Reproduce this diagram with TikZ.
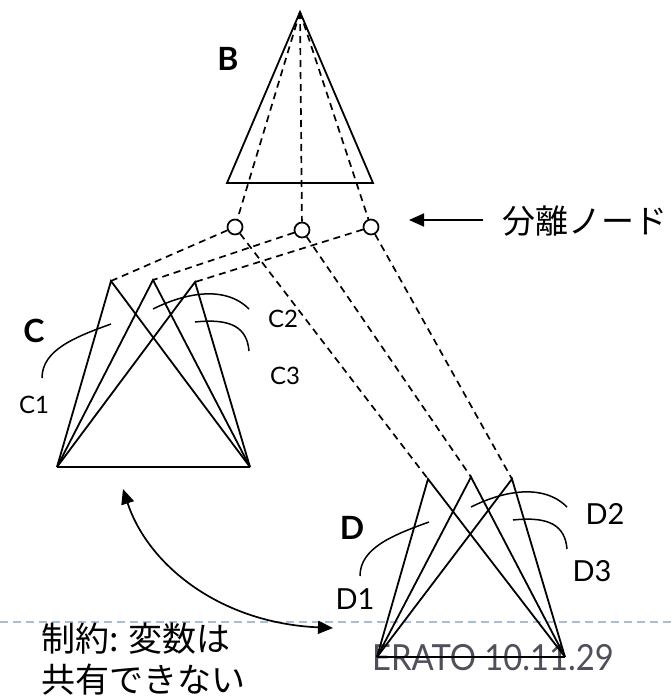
\documentclass[tikz,border=0pt]{standalone}
\usepackage{fontspec}
\setmainfont{Lato}
\newfontfamily\jpfont{Noto Sans CJK JP}
\usetikzlibrary{arrows.meta}
\definecolor{footblue}{HTML}{A9BED4}
\definecolor{footgray}{HTML}{50505C}
\begin{document}
\begin{tikzpicture}[x=1pt,y=-1pt,
  tri/.style={line width=1.8pt, line join=miter},
  dsh/.style={line width=1.7pt, dash pattern=on 7pt off 5pt},
  sepnode/.style={circle, draw, line width=1.7pt, minimum size=15pt, inner sep=0pt},
  lead/.style={line width=1.5pt},
  clbl/.style={font=\fontsize{24}{28}\selectfont, inner sep=0pt},
  dlbl/.style={font=\fontsize{29}{34}\selectfont, inner sep=0pt},
  big/.style={font=\bfseries\fontsize{32}{36}\selectfont, inner sep=0pt},
  jp/.style={font=\jpfont\fontsize{33}{38}\selectfont, inner sep=0pt, anchor=west},
  arr/.style={line width=1.7pt, -{Triangle[length=15pt,width=13pt]}},
  darr/.style={line width=1.7pt, {Triangle[length=15pt,width=13pt]}-{Triangle[length=15pt,width=13pt]}}
]
\useasboundingbox (0,0) rectangle (672,697);

% footer
\coordinate (fl) at (0,622);
\coordinate (fr) at (672,622);
\draw[color=footblue, line width=1.3pt, dash pattern=on 8pt off 5pt] (fl) -- (fr);
\node[font=\fontsize{36}{42}\selectfont, text=footgray, anchor=base west, inner sep=0pt] (erato) at (372,670) {\scalebox{0.91}[1]{ERATO 10.11.29}};

% B
\coordinate (Bt) at (300,12);
\coordinate (Bl) at (227,183);
\coordinate (Br) at (373,183);
\draw[tri] (Bt) -- (Bl) -- (Br) -- cycle;
\node[big] (Blabel) at (228,59) {B};

% separator nodes
\node[sepnode] (s1) at (235,227) {};
\node[sepnode] (s2) at (302,230) {};
\node[sepnode] (s3) at (371,227) {};

% C
\coordinate (c1p) at (111,281);
\coordinate (c2p) at (153,280);
\coordinate (c3p) at (195,282);
\coordinate (cl) at (57,467);
\coordinate (cr) at (250,467);
\draw[tri] (cl) -- (cr);
\foreach \p in {c1p,c2p,c3p} \draw[tri] (cl) -- (\p) -- (cr);

% D
\coordinate (d1p) at (428,479);
\coordinate (d2p) at (471,477);
\coordinate (d3p) at (512,479);
\coordinate (dl) at (377,657);
\coordinate (dr) at (565,657);
\draw[tri] (dl) -- (dr);
\foreach \p in {d1p,d2p,d3p} \draw[tri] (dl) -- (\p) -- (dr);

% dashed connections
\foreach \s in {s1,s2,s3} \draw[dsh] (Bt) -- (\s);
\draw[dsh] (s1) -- (c1p);
\draw[dsh] (s2) -- (c2p);
\draw[dsh] (s3) -- (c3p);
\draw[dsh] (s1) -- (d1p);
\draw[dsh] (s2) -- (d2p);
\draw[dsh] (s3) -- (d3p);

% leaders C
\draw[lead] (111,324) .. controls (75,337) and (42,350) .. (42,378);
\draw[lead] (153,309) .. controls (185,293) and (225,285) .. (249,309);
\draw[lead] (195,322) .. controls (232,318) and (247,328) .. (249,351);
% leaders D
\begin{scope}[shift={(318,198)}]
\draw[lead] (111,324) .. controls (75,337) and (42,350) .. (42,378);
\draw[lead] (153,309) .. controls (185,293) and (225,285) .. (249,309);
\draw[lead] (195,322) .. controls (232,318) and (247,328) .. (249,351);
\end{scope}

% labels
\node[big] (Clabel) at (34,331) {C};
\node[big] (Dlabel) at (352,528) {D};
\node[clbl] (c1l) at (34,405) {C1};
\node[clbl] (c2l) at (283,319) {C2};
\node[clbl] (c3l) at (285,376) {C3};
\node[dlbl] (d1l) at (355,599) {D1};
\node[dlbl] (d2l) at (605,514) {D2};
\node[dlbl] (d3l) at (592,571) {D3};

% separator-node arrow
\coordinate (ar1) at (483,220);
\coordinate (ar2) at (409,220);
\draw[arr] (ar1) -- (ar2);
\node[jp] (septext) at (502,221) {分離ノード};

% constraint arrow
\coordinate (da1) at (123,489);
\coordinate (da2) at (333,628);
\draw[darr] (da1) .. controls (148,565) and (220,623) .. (da2);
\node[jp, font=\jpfont\fontsize{34}{40}\selectfont] (con1) at (41,639) {制約: 変数は};
\node[jp, font=\jpfont\fontsize{34}{40}\selectfont] (con2) at (41,680) {共有できない};
\end{tikzpicture}
\end{document}
